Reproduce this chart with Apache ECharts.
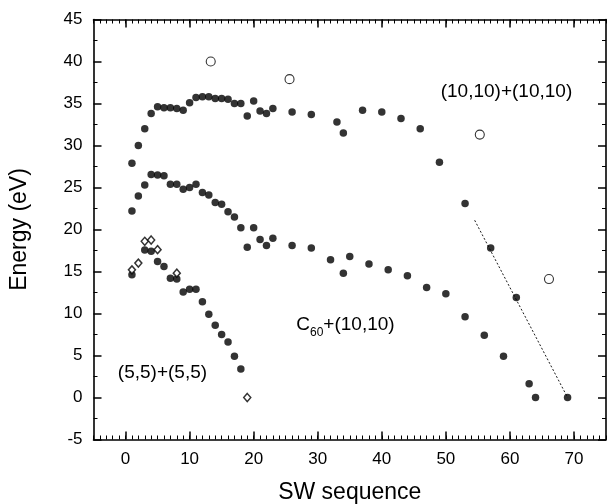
<!DOCTYPE html>
<html>
<head>
<meta charset="utf-8">
<script src="https://cdn.jsdelivr.net/npm/echarts@6/dist/echarts.min.js"></script>
<style>html,body{margin:0;padding:0;background:#fff}#c{width:607px;height:504px}</style>
</head>
<body>
<div id="c"></div>
<script>
// (10,10)+(10,10) filled
var s10X = [1,2,3,4,5,6,7,8,9,10,11,12,13,14,15,16,17,18,19,20,21,22,23,26,29,33,34,37,40,43,46,49,53,57,61,69];
var s10Y = [27.9,30.0,32.0,33.8,34.6,34.5,34.5,34.4,34.2,35.1,35.7,35.8,35.8,35.6,35.6,35.5,35.0,35.0,33.5,35.3,34.1,33.8,34.4,34.0,33.7,32.8,31.5,34.2,34.0,33.2,32.0,28.0,23.1,17.8,11.9,0];
// C60+(10,10) filled
var c60X = [1,2,3,4,5,6,7,8,9,10,11,12,13,14,15,16,17,18,19,20,21,22,23,26,29,32,34,35,38,41,44,47,50,53,56,59,63,64];
var c60Y = [22.2,24.0,25.3,26.55,26.5,26.4,25.4,25.4,24.8,25.0,25.4,24.4,24.1,23.2,23.0,22.1,21.5,20.2,17.9,20.2,18.8,18.1,18.95,18.1,17.8,16.4,14.8,16.8,15.9,15.2,14.5,13.1,12.35,9.6,7.4,4.9,1.65,0];
// (5,5)+(5,5) filled
var s5X = [1,3,4,5,6,7,8,9,10,11,12,13,14,15,16,17,18];
var s5Y = [14.6,17.55,17.4,16.2,15.6,14.2,14.1,12.55,12.9,12.9,11.4,9.9,8.6,7.5,6.6,4.9,3.4];
// (5,5)+(5,5) open diamonds
var dX = [1,2,3,4,5,8,19];
var dY = [15.2,16.0,18.6,18.75,17.6,14.8,0];
// open circles
var oX = [13.3,25.6,55.3,66.1];
var oY = [40.0,37.9,31.3,14.1];
// dotted fit line
var fitX = [54.5,69];
var fitY = [21.1,0];
// ticks
var xMajor = [0,10,20,30,40,50,60,70];
var xMin = -5, xMax = 75, yMin = -5, yMax = 45, yStep = 5;

function pairs(a, b){ return a.map(function(v,i){ return [v, b[i]]; }); }

var FONT = '"Liberation Sans", Arial, Helvetica, sans-serif';
var chart = echarts.init(document.getElementById('c'), null, {renderer:'canvas'});

function xAx(pos, major, withLabel) {
  var o = {
    type:'value', position:pos, min:xMin, max:xMax,
    axisLine:{show:major?false:true, onZero:false, lineStyle:{color:'#000', width:1.6}},
    splitLine:{show:false},
    axisLabel:{show:false}
  };
  if (major) {
    o.axisTick = {show:true, inside:true, length:8, customValues:xMajor, lineStyle:{color:'#000', width:1.5}};
    if (withLabel) {
      o.axisLabel = {show:true, customValues:xMajor, color:'#000', fontSize:17, fontFamily:FONT, margin:11};
      o.name = 'SW sequence';
      o.nameLocation = 'middle';
      o.nameGap = 42;
      o.nameTextStyle = {color:'#000', fontSize:23, fontFamily:FONT};
    }
  } else {
    o.interval = 1;
    o.axisTick = {show:true, inside:true, length:4, lineStyle:{color:'#000', width:1}};
  }
  return o;
}
function yAx(pos, withLabel) {
  var o = {
    type:'value', position:pos, min:yMin, max:yMax, interval:yStep,
    axisLine:{show:true, onZero:false, lineStyle:{color:'#000', width:1.6}},
    axisTick:{show:true, inside:true, length:8, lineStyle:{color:'#000', width:1.5}},
    minorTick:{show:true, splitNumber:2, length:4, lineStyle:{color:'#000', width:1}},
    splitLine:{show:false},
    axisLabel:{show:withLabel, color:'#000', fontSize:17, fontFamily:FONT, margin:11}
  };
  if (withLabel) {
    o.name = 'Energy (eV)';
    o.nameLocation = 'middle';
    o.nameGap = 62;
    o.nameTextStyle = {color:'#000', fontSize:23, fontFamily:FONT};
  }
  return o;
}

var filled = {type:'scatter', symbol:'circle', symbolSize:7.5, itemStyle:{color:'#000'}, silent:true, z:3};
function filledSeries(x, y){ return Object.assign({}, filled, {data:pairs(x,y)}); }

chart.setOption({
  animation:false,
  backgroundColor:'#fff',
  grid:{left:93.5, right:1, top:19.5, bottom:64.5, containLabel:false, outerBoundsMode:'none'},
  xAxis:[xAx('bottom', false), xAx('bottom', true, true), xAx('top', false), xAx('top', true, false)],
  yAxis:[yAx('left', true), yAx('right', false)],
  series:[
    {type:'line', data:pairs(fitX, fitY), symbol:'none', silent:true, lineStyle:{color:'#000', width:0.9, type:[2,2]}, z:2},
    filledSeries(s10X, s10Y),
    filledSeries(c60X, c60Y),
    filledSeries(s5X, s5Y),
    {type:'scatter', symbol:'circle', symbolSize:9, data:pairs(oX, oY), silent:true, itemStyle:{color:'#fff', borderColor:'#000', borderWidth:1.1}, z:4},
    {type:'scatter', symbol:'diamond', symbolSize:[7,8], data:pairs(dX, dY), silent:true, itemStyle:{color:'#fff', borderColor:'#000', borderWidth:1.5}, z:5}
  ]
});

function px(x, y){ return chart.convertToPixel({xAxisIndex:0, yAxisIndex:0}, [x, y]); }
var ctx = document.createElement('canvas').getContext('2d');
function tw(t, size){ ctx.font = size + 'px ' + FONT; return ctx.measureText(t).width; }
var p1 = px(49.2, 36.4), p2 = px(-1.2, 2.9), p3 = px(26.65, 8.65);
var wC = tw('C', 19), w60 = tw('60', 12);
function txt(t, x, y, size){
  return {type:'text', x:x, y:y, silent:true, style:{text:t, fill:'#000', font:size + 'px ' + FONT, verticalAlign:'middle', align:'left'}};
}
chart.setOption({
  graphic:[
    txt('(10,10)+(10,10)', p1[0], p1[1], 19),
    txt('(5,5)+(5,5)', p2[0], p2[1], 19),
    txt('C', p3[0], p3[1], 19),
    txt('60', p3[0] + wC, p3[1] + 8, 12),
    txt('+(10,10)', p3[0] + wC + w60, p3[1], 19)
  ]
});
</script>
</body>
</html>
